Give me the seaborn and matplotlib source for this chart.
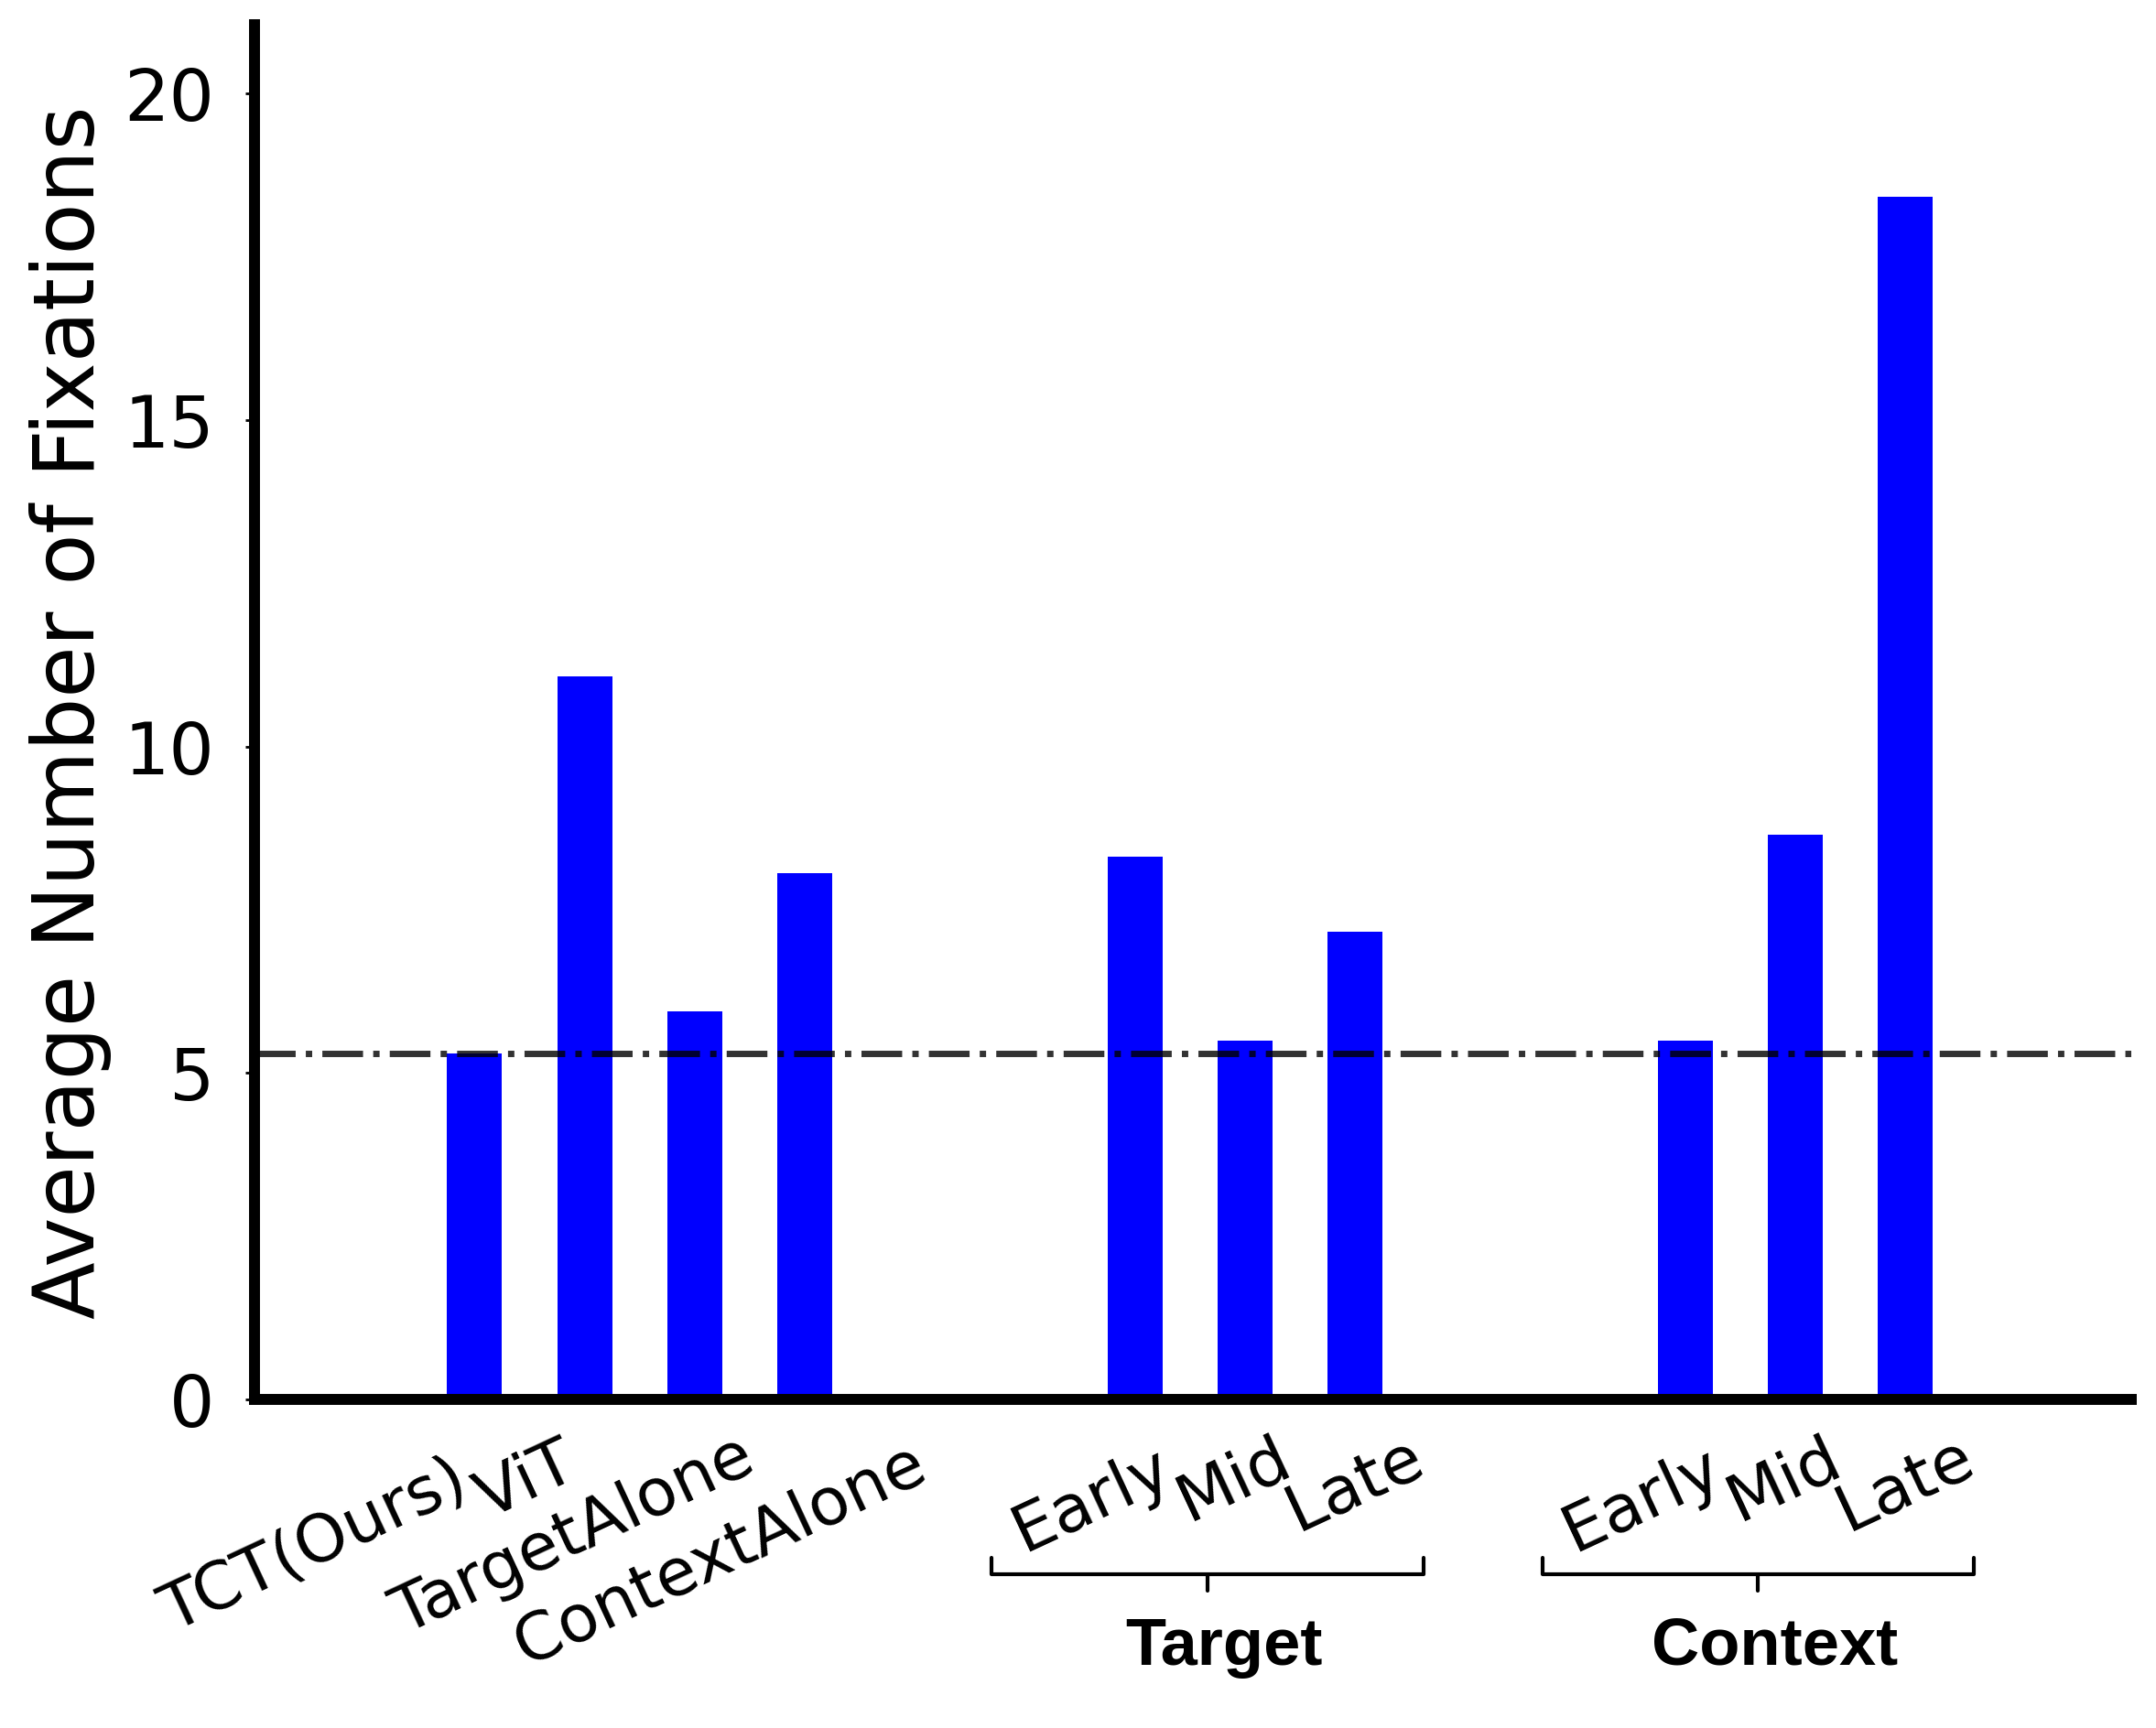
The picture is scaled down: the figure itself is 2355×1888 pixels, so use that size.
import numpy as np
import matplotlib
matplotlib.use("Agg")
import matplotlib.pyplot as plt
import matplotlib.transforms as mtransforms
import seaborn as sns

# data
models = ["TCT(Ours)", "ViT", "TargetAlone", "ContextAlone",
          "Early", "Mid", "Late", "Early", "Mid", "Late"]
positions = [0, 1, 2, 3, 6, 7, 8, 11, 12, 13]
fixations = [5.3, 11.07, 5.94, 8.06, 8.32, 5.49, 7.16, 5.49, 8.65, 18.42]
y_ticks = [0, 5, 10, 15, 20]
groups = ["Target", "Context"]
group_members = [[6, 7, 8], [11, 12, 13]]

# per-label shifts (pixels, right / down) to mimic the staggered labels
label_shift = [(-26, 53), (-28, 35), (47, 28), (114, 36),
               (21, 40), (32, 30), (57, 28), (21, 40), (32, 30), (57, 28)]

sns.set_theme(style="white")
plt.rcParams["font.family"] = ["DejaVu Sans"]
plt.rcParams["text.color"] = "black"
plt.rcParams["axes.labelcolor"] = "black"

DPI = 200
fig = plt.figure(figsize=(2355 / DPI, 1888 / DPI), dpi=DPI)
ax = fig.add_axes([0.118, 0.19, 0.8705, 0.7957])

sns.barplot(x=positions, y=fixations, native_scale=True, orient="x",
            width=0.5, color="#0000ff", saturation=1, linewidth=0, ax=ax)

# reference line at our model's value
ax.axhline(fixations[0], color="black", alpha=0.8, ls="-.", lw=2.5, zorder=3)

ax.set_xlim(-2, 15.05)
ax.set_ylim(0, 21.05)
ax.set_yticks(y_ticks)
ax.set_ylabel("Average Number of Fixations", fontsize=33, labelpad=5)

for side in ["top", "right"]:
    ax.spines[side].set_visible(False)
for side in ["left", "bottom"]:
    ax.spines[side].set_linewidth(4.3)
    ax.spines[side].set_color("black")

ax.tick_params(axis="y", labelsize=28, length=3.6, width=1, pad=12,
               direction="out", left=True, colors="black")
ax.tick_params(axis="x", length=0, pad=0, colors="black")

ax.set_xticks(positions)
ax.set_xticklabels(models, rotation=25, ha="right", va="top",
                   rotation_mode="anchor", fontsize=26)
for lab, (dx, dy) in zip(ax.get_xticklabels(), label_shift):
    off = mtransforms.ScaledTranslation(dx / DPI, -dy / DPI, fig.dpi_scale_trans)
    lab.set_transform(lab.get_transform() + off)

# brackets and group names under the layer labels
trans = mtransforms.blended_transform_factory(ax.transData, ax.transAxes)
for name, members in zip(groups, group_members):
    left = min(members) - 1.3
    right = max(members) + 0.62
    mid = (left + right) / 2
    ax.plot([left, left, right, right], [-0.115, -0.127, -0.127, -0.115],
            color="black", lw=1.5, transform=trans, clip_on=False)
    ax.plot([mid, mid], [-0.127, -0.139], color="black", lw=1.5,
            transform=trans, clip_on=False)
    ax.text(mid + 0.15, -0.18, name, transform=trans, ha="center", va="center",
            fontsize=26, fontweight="bold", family=["Liberation Sans"])

fig.savefig("out.png", dpi=DPI, facecolor="white")
